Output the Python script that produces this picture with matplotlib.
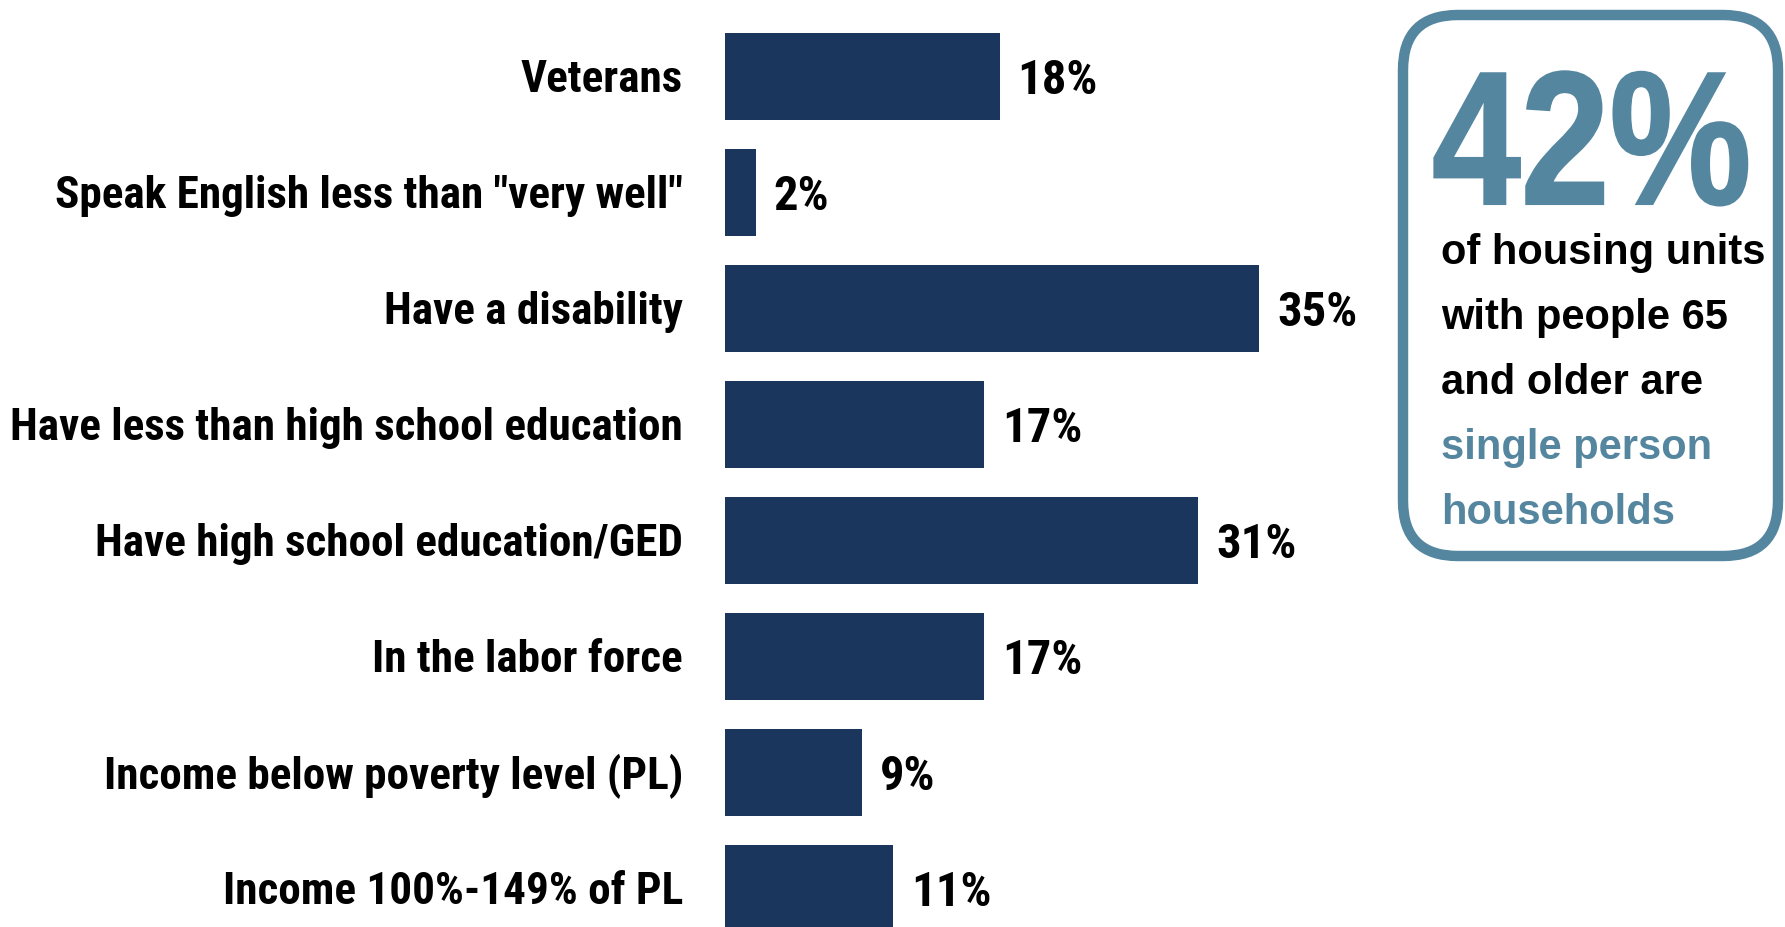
import matplotlib.pyplot as plt
from matplotlib.patches import FancyBboxPatch, PathPatch
from matplotlib.textpath import TextPath
from matplotlib.font_manager import FontProperties
from matplotlib.transforms import Affine2D

categories = [
    'Veterans',
    'Speak English less than "very well"',
    'Have a disability',
    'Have less than high school education',
    'Have high school education/GED',
    'In the labor force',
    'Income below poverty level (PL)',
    'Income 100%-149% of PL',
]
values = [18, 2, 35, 17, 31, 17, 9, 11]

callout_value = '42%'
callout_lines = ['of housing units', 'with people 65', 'and older are']
callout_accent = ['single person', 'households']

NAVY = '#1a365d'
TEAL = '#55869f'
LABEL_FONT = ['Roboto Condensed', 'DejaVu Sans']
BOX_FONT = ['Liberation Sans', 'DejaVu Sans']

W, H, DPI = 1785, 928, 100
fig = plt.figure(figsize=(W / DPI, H / DPI), dpi=DPI)

# bar axes: left edge at x=725px, 35% reaches x=1259px
x0, x35 = 725, 1259
ax = fig.add_axes([x0 / W, 0, (x35 - x0) / W, 1])
ax.set_xlim(0, 35)
row0, pitch = 77, 116
ax.set_ylim((H - row0) / pitch, -row0 / pitch)
ax.axis('off')

ypos = list(range(len(categories)))
ax.barh(ypos, values, height=0.75, color=NAVY, clip_on=False)

for y, cat, v in zip(ypos, categories, values):
    ax.annotate(cat, (0, y), xytext=(-42, -3), textcoords='offset pixels',
                ha='right', va='center', fontsize=32.5, fontweight='bold',
                family=LABEL_FONT, color='black')
    ax.annotate(f'{v}%', (v, y), xytext=(18, -4), textcoords='offset pixels',
                ha='left', va='center', fontsize=35, fontweight='bold',
                family=LABEL_FONT, color='black')

# callout box in pixel space
ov = fig.add_axes([0, 0, 1, 1])
ov.set_xlim(0, W)
ov.set_ylim(H, 0)
ov.axis('off')
ov.add_patch(FancyBboxPatch((1403, 16), 1778 - 1403, 557 - 16,
                            boxstyle='round,pad=0,rounding_size=55',
                            facecolor='white', edgecolor=TEAL, linewidth=7.5))

# big figure: bold glyphs squeezed horizontally
big = TextPath((0, 0), callout_value, size=190,
               prop=FontProperties(family=BOX_FONT, weight='bold'))
big_tf = Affine2D().scale(0.84, -1).translate(1432, 205)
ov.add_patch(PathPatch(big_tf.transform_path(big), facecolor=TEAL,
                       edgecolor=TEAL, linewidth=1.5, transform=ov.transData))

y = 264
for line in callout_lines:
    ov.text(1441, y, line, fontsize=30, fontweight='bold', family=BOX_FONT,
            color='black', ha='left', va='baseline')
    y += 65
for line in callout_accent:
    ov.text(1441, y, line, fontsize=30, fontweight='bold', family=BOX_FONT,
            color=TEAL, ha='left', va='baseline')
    y += 65

fig.savefig('out.png', dpi=DPI)
